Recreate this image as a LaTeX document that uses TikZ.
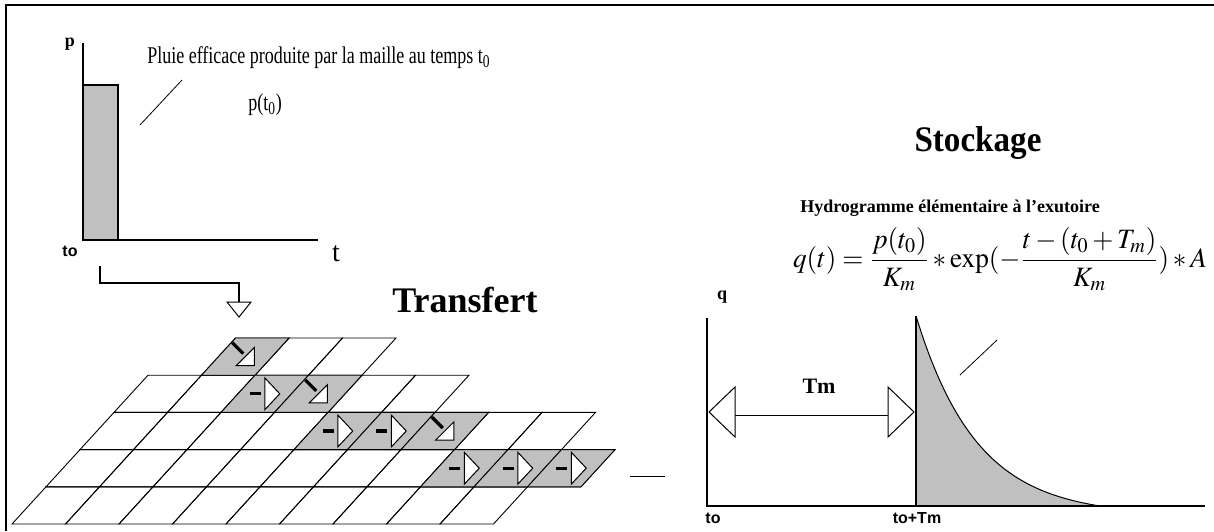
\documentclass[tikz,border=0pt]{standalone}
\usepackage{mathptmx}
\usepackage{fontspec}
\setmainfont{Liberation Serif}
\newfontfamily\labelsans{Liberation Sans}
\usetikzlibrary{calc, positioning}
\definecolor{cellgray}{HTML}{C0C0C0}

\begin{document}
\begin{tikzpicture}[x=0.5pt, y=-0.5pt, every node/.style={inner sep=0pt},
    cellline/.style={line width=0.45pt},
    axisline/.style={line width=0.7pt},
    hollowtip/.style={draw, fill=white, line width=0.5pt},
    tickstroke/.style={line width=1.6pt},
    serifbold/.style={font=\bfseries\fontsize{9}{10}\selectfont},
    sansbold/.style={font=\labelsans\bfseries\fontsize{8}{9}\selectfont},
    narrowtext/.style={font=\fontsize{12}{14}\selectfont, xscale=0.75},
    bigtitle/.style={font=\bfseries\fontsize{18}{21}\selectfont}]
    \useasboundingbox (0,0) rectangle (1214,531);
    \draw[line width=1.1pt] (6,531) -- (6,5) -- (1214,5);
    % pluie au temps t0
    \fill[cellgray] (83,85) rectangle (118,240);
    \draw[axisline] (83,240) -- (83,85) -- (118,85) -- (118,240);
    \draw[axisline] (83,43) -- (83,240) -- (318,240);
    \draw[line width=0.4pt] (140,125) -- (182,80);
    \node[serifbold] (plab) at (70,44) {p};
    \node[sansbold] (tolab) at (70,251) {to};
    \node[font=\fontsize{14}{16}\selectfont] (tlab) at (336,254) {t};
    \node[narrowtext, anchor=west] (pluie) at (147,58)
        {Pluie efficace produite par la maille au temps t\textsubscript{0}};
    \node[narrowtext] (ptzero) at (265,105) {p(t\textsubscript{0})};
    % descente vers la grille
    \coordinate (dropstart) at (100,266);
    \coordinate (droptip) at (239,302);
    \draw[line width=1.2pt] (dropstart) |- ($(droptip)+(0,-19)$) -- (droptip);
    \draw[hollowtip] ($(droptip)+(-12,0)$) -- ($(droptip)+(12,0)$) -- ($(droptip)+(0,15)$) -- cycle;
    \node[bigtitle] (transfert) at (465,300) {Transfert};
    % grille des mailles
    \foreach \j/\first/\last in {0/0/8, 1/0/9, 2/0/8, 3/0/5, 4/1/3}
        \foreach \c in {\first,...,\last}
            \draw[cellline] ({12+53.5*\c+34*\j},{524-37.2*\j}) -- ++(53.5,0) -- ++(34,-37.2) -- ++(-53.5,0) -- cycle;
    \foreach \c/\j in {1/4, 2/3, 3/3, 4/2, 5/2, 6/2, 7/1, 8/1, 9/1}
        \filldraw[cellline, fill=cellgray] ({12+53.5*\c+34*\j},{524-37.2*\j}) -- ++(53.5,0) -- ++(34,-37.2) -- ++(-53.5,0) -- cycle;
    \foreach \c/\j in {2/3, 4/2, 5/2, 7/1, 8/1, 9/1} {
        \coordinate (ctr) at ({12+53.5*(\c+0.5)+34*(\j+0.5)},{524-37.2*(\j+0.5)});
        \draw[tickstroke, shift={(ctr)}] (-15,0) -- (-4,0);
        \draw[hollowtip, shift={(ctr)}] (0,-16) -- (15,0) -- (0,16) -- cycle;
    }
    \foreach \c/\j in {1/4, 3/3, 6/2} {
        \coordinate (ctr) at ({12+53.5*(\c+0.5)+34*(\j+0.5)},{524-37.2*(\j+0.5)});
        \draw[tickstroke, shift={(ctr)}] (-13,-14) -- (-2,-3);
        \draw[hollowtip, shift={(ctr)}] (9,-9) -- (9,9) -- (-9,9) -- cycle;
    }
    \draw[line width=0.5pt] (630,476) -- (665,476);
    % stockage
    \node[bigtitle, xscale=0.92] (stockage) at (978,143) {Stockage};
    \node[font=\bfseries\fontsize{9}{11}\selectfont] (hydro) at (950,208) {Hydrogramme élémentaire à l'exutoire};
    \node[font=\fontsize{14}{17}\selectfont, xscale=0.97] (formule) at (1000,259)
        {$\displaystyle q(t)=\frac{p(t_0)}{K_m}*\exp(-\frac{t-(t_0+T_m)}{K_m})*A$};
    \fill[cellgray] (916,506) -- plot[domain=0:184, samples=60]
        ({916+\x}, {506-190*(exp(-\x/61)-0.049)/0.951}) -- cycle;
    \draw[line width=0.5pt] plot[domain=0:184, samples=60]
        ({916+\x}, {506-190*(exp(-\x/61)-0.049)/0.951});
    \draw[axisline] (707,318) -- (707,506) -- (1205,506);
    \draw[axisline] (916,316) -- (916,506);
    \draw[line width=0.4pt] (960,375) -- (997,340);
    \node[serifbold] (qlab) at (722,297) {q};
    \coordinate (tmL) at (709,412);
    \coordinate (tmR) at (914,412);
    \draw[line width=0.5pt] ($(tmL)+(26,3)$) -- ($(tmR)+(-26,3)$);
    \draw[hollowtip] (tmL) -- ++(26,-25) -- ++(0,50) -- cycle;
    \draw[hollowtip] (tmR) -- ++(-26,-25) -- ++(0,50) -- cycle;
    \node[font=\bfseries\fontsize{11}{13}\selectfont] (tmlab) at (819,386) {Tm};
    \node[sansbold] (tozero) at (713,518) {to};
    \node[sansbold] (totm) at (917,518) {to+Tm};
\end{tikzpicture}
\end{document}
